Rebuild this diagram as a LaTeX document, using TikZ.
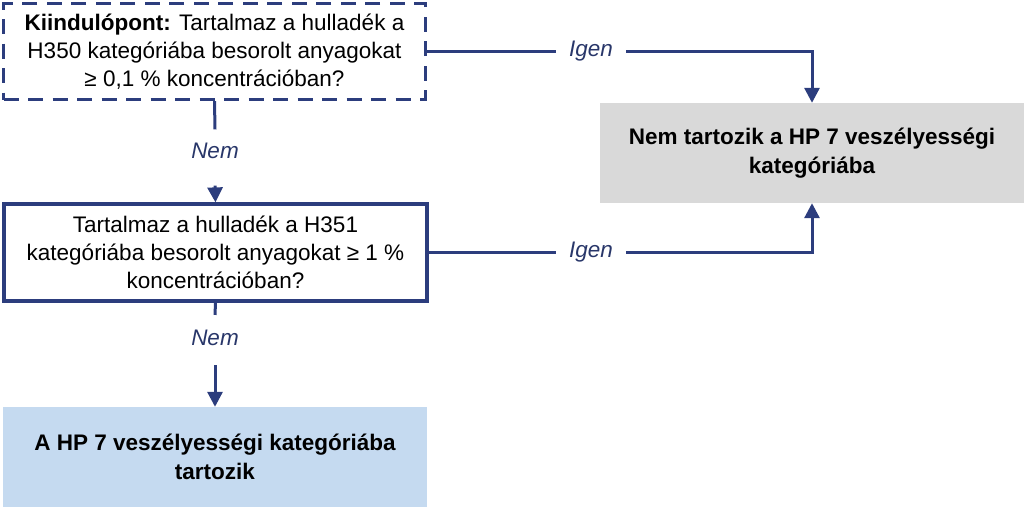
\documentclass[tikz,border=0pt]{standalone}
\usepackage{fontspec}
\setmainfont{Liberation Sans}
\usetikzlibrary{arrows.meta,calc}
\definecolor{navy}{RGB}{44,61,125}
\definecolor{lblcol}{RGB}{40,54,105}
\definecolor{boxblue}{RGB}{197,218,240}
\definecolor{boxgray}{RGB}{217,217,217}
\begin{document}
\begin{tikzpicture}[x=1pt,y=-1pt,
  txt/.style={font=\fontsize{22.5}{28}\selectfont, align=center, text=black, inner sep=0pt},
  qbox/.style={txt, draw=navy, line width=3.2pt, rectangle},
  resbox/.style={txt, font=\fontsize{22.5}{29}\selectfont\bfseries, rectangle},
  lbl/.style={font=\fontsize{22.5}{28}\selectfont\itshape, text=lblcol, inner xsep=13pt, inner ysep=0pt},
  conn/.style={draw=navy, line width=3pt},
  arr/.style={conn, -{Triangle[width=15pt,length=15pt]}}]
\useasboundingbox (0,0) rectangle (1024,507);
\node[qbox, dash pattern=on 15pt off 9.5pt, minimum width=422pt, minimum height=96pt] (b1) at (214.5,51.5)
  {\textbf{Kiindulópont:} Tartalmaz a hulladék a\\H350 kategóriába besorolt anyagokat\\≥ 0,1 \% koncentrációban?};
\node[qbox, minimum width=423pt, minimum height=97pt] (b2) at (215.5,252.5)
  {Tartalmaz a hulladék a H351\\kategóriába besorolt anyagokat ≥ 1 \%\\koncentrációban?};
\node[resbox, fill=boxblue, minimum width=424pt, minimum height=100pt] (b3) at (215,457)
  {A HP 7 veszélyességi kategóriába\\tartozik};
\node[resbox, fill=boxgray, minimum width=424pt, minimum height=100pt] (b4) at (812,153)
  {Nem tartozik a HP 7 veszélyességi\\kategóriába};
\node[lbl] (l1) at (591,51.5) {Igen};
\node[lbl] (l2) at (591,252.5) {Igen};
\node[lbl] (n1) at (215,150.5) {Nem};
\node[lbl] (n2) at (215,338) {Nem};
\draw[conn] (b1.east) -- (l1.west);
\draw[arr] (l1.east) -| (b4.north);
\draw[conn] (b2.east) -- (l2.west);
\draw[arr] (l2.east) -| (b4.south);
\draw[conn] (b1.south) -- ([yshift=13pt]n1.north);
\draw[arr] ([yshift=-27pt]n1.south) -- (b2.north);
\draw[conn] (b2.south) -- ([yshift=15pt]n2.north);
\draw[arr] ([yshift=-19pt]n2.south) -- (b3.north);
\end{tikzpicture}
\end{document}
